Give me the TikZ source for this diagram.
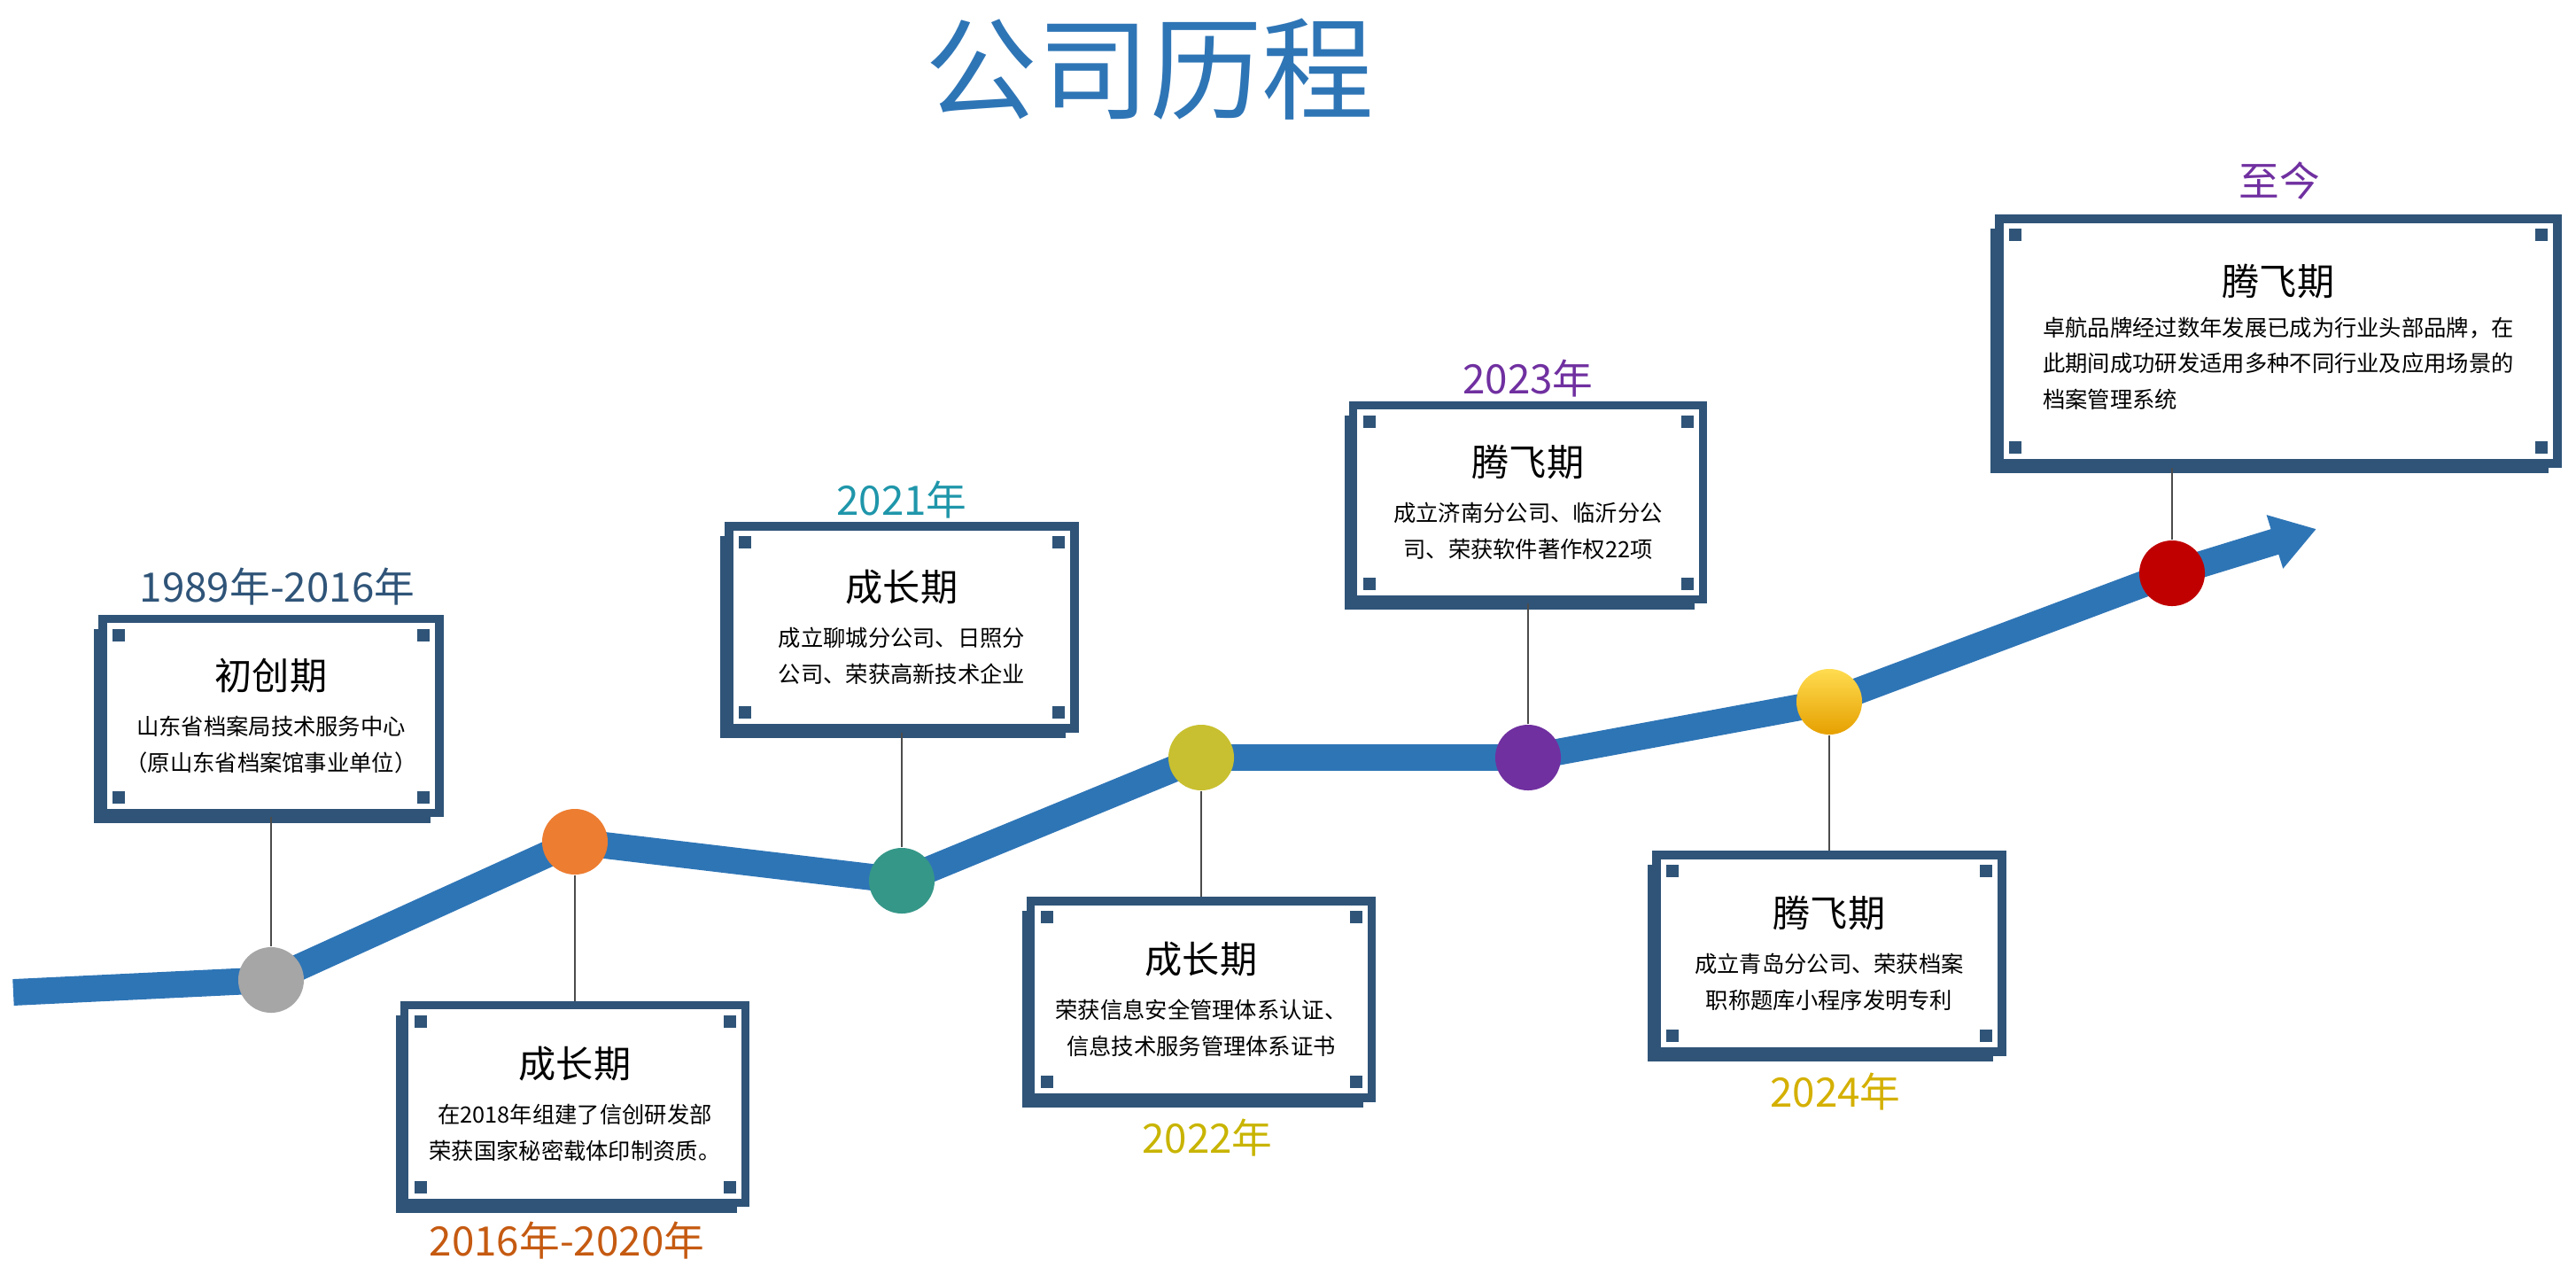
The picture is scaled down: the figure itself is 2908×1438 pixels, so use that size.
\documentclass[tikz,border=0pt]{standalone}
\usepackage{fontspec}
\setmainfont{Noto Sans CJK SC}
\usetikzlibrary{arrows.meta}
\definecolor{framecolor}{RGB}{47,84,120}
\definecolor{pathcolor}{RGB}{46,117,182}
\definecolor{titlecolor}{RGB}{46,117,182}

\tikzset{
  stage/.style={draw=framecolor, fill=white, line width=2.6pt, inner sep=0pt,
    font=\fontsize{7.2}{11.5}\selectfont},
  yearlabel/.style={font=\fontsize{13}{15}\selectfont},
  dot/.style={circle, minimum size=0.74cm, inner sep=0pt},
  stem/.style={draw=black!70, line width=0.6pt}
}

% stagebox [opts]{name}{cx}{cy}{w}{h}{heading}{body}
\newcommand\stagebox[8][]{%
  \fill[framecolor] (#3-#5/2-10,#4-#6/2+11) rectangle (#3+#5/2-10,#4+#6/2+11);
  \node[stage, minimum width=#5*0.01cm, minimum height=#6*0.01cm, align=center, #1] (#2) at (#3,#4)
    {\fontsize{12}{15}\selectfont #7\\[3pt]#8};
  \foreach \sx/\sy in {1/1,-1/1,1/-1,-1/-1}
    \fill[framecolor] ([shift={(\sx*18-7,\sy*18-7)}]#3-\sx*#5/2,#4-\sy*#6/2) rectangle ++(14,14);
}

\begin{document}
\begin{tikzpicture}[x=0.01cm,y=-0.01cm]
\useasboundingbox (0,0) rectangle (2908,1438);

\node[text=titlecolor, font=\fontsize{36}{40}\selectfont] (title) at (1298,78) {公司历程};

% timeline path
\coordinate (p0) at (15,1120);
\coordinate (p9) at (2615,597);
\node[dot] (c1) at (306,1106) {};
\node[dot] (c2) at (649,950) {};
\node[dot] (c3) at (1018,994) {};
\node[dot] (c4) at (1356,855) {};
\node[dot] (c5) at (1725,855) {};
\node[dot] (c6) at (2065,792) {};
\node[dot] (c7) at (2452,647) {};
\draw[pathcolor, line width=8.5pt, -{Triangle[length=14pt,width=17pt]}]
  (p0) -- (c1.center) -- (c2.center) -- (c3.center) -- (c4.center) -- (c5.center)
  -- (c6.center) -- (c7.center) -- (p9);
\node[dot, fill=black!35] at (c1) {};
\node[dot, fill={rgb,255:red,237;green,125;blue,49}] at (c2) {};
\node[dot, fill={rgb,255:red,53;green,151;blue,136}] at (c3) {};
\node[dot, fill={rgb,255:red,200;green,192;blue,48}] at (c4) {};
\node[dot, fill={rgb,255:red,112;green,48;blue,160}] at (c5) {};
\node[dot, top color={rgb,255:red,255;green,220;blue,80}, bottom color={rgb,255:red,230;green,160;blue,0}] at (c6) {};
\node[dot, fill={rgb,255:red,192;green,0;blue,0}] at (c7) {};

% boxes
\stagebox{b1}{306}{808}{380}{219}{初创期}{山东省档案局技术服务中心\\（原山东省档案馆事业单位）}
\stagebox{b2}{649}{1246}{385}{223}{成长期}{在2018年组建了信创研发部\\荣获国家秘密载体印制资质。}
\stagebox{b3}{1018}{708}{390}{228}{成长期}{成立聊城分公司、日照分\\公司、荣获高新技术企业}
\stagebox{b4}{1356}{1128}{385}{222}{成长期}{荣获信息安全管理体系认证、\\信息技术服务管理体系证书}
\stagebox{b5}{1725}{567}{395}{219}{腾飞期}{成立济南分公司、临沂分公\\司、荣获软件著作权22项}
\stagebox{b6}{2065}{1076}{390}{222}{腾飞期}{成立青岛分公司、荣获档案\\职称题库小程序发明专利}
\stagebox{b7}{2572}{385}{630}{276}{腾飞期}{\begin{tabular}{@{}l@{}}卓航品牌经过数年发展已成为行业头部品牌，在\\此期间成功研发适用多种不同行业及应用场景的\\档案管理系统\end{tabular}}

% stems
\draw[stem] (c1) -- (c1 |- b1.south);
\draw[stem] (c2) -- (c2 |- b2.north);
\draw[stem] (c3) -- (c3 |- b3.south);
\draw[stem] (c4) -- (c4 |- b4.north);
\draw[stem] (c5) -- (c5 |- b5.south);
\draw[stem] (c6) -- (c6 |- b6.north);
\draw[stem] (c7) -- (c7 |- b7.south);

% years
\node[yearlabel, text=framecolor] (y1) at (313,662) {1989年-2016年};
\node[yearlabel, text={rgb,255:red,197;green,90;blue,17}] (y2) at (640,1400) {2016年-2020年};
\node[yearlabel, text={rgb,255:red,31;green,150;blue,170}] (y3) at (1018,564) {2021年};
\node[yearlabel, text={rgb,255:red,200;green,180;blue,0}] (y4) at (1363,1284) {2022年};
\node[yearlabel, text={rgb,255:red,112;green,48;blue,160}] (y5) at (1725,427) {2023年};
\node[yearlabel, text={rgb,255:red,212;green,176;blue,0}] (y6) at (2072,1232) {2024年};
\node[yearlabel, text={rgb,255:red,112;green,48;blue,160}] (y7) at (2573,204) {至今};
\end{tikzpicture}
\end{document}
